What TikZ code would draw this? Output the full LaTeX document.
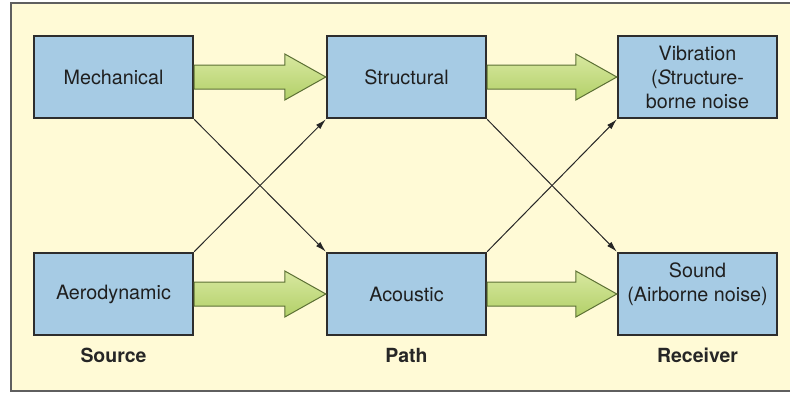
\documentclass[tikz,border=0pt]{standalone}
\usepackage{fontspec}
\setmainfont{TeX Gyre Heros}
\usetikzlibrary{arrows.meta,calc}

\definecolor{paper}{RGB}{255,250,214}
\definecolor{boxblue}{RGB}{166,203,228}
\definecolor{boxline}{RGB}{45,45,45}
\definecolor{frameline}{RGB}{95,95,95}
\definecolor{greenlight}{RGB}{216,232,160}
\definecolor{greendark}{RGB}{178,208,104}
\definecolor{greenline}{RGB}{92,112,52}

\tikzset{every picture/.style={line width=0.75pt}}
\tikzset{
  blockbox/.style={draw=boxline, line width=1.5pt, fill=boxblue, minimum width=119.5pt, minimum height=62pt,
    inner sep=0pt, align=center, font=\fontsize{14.8}{18}\selectfont, text=black!88},
  caption/.style={font=\fontsize{14.6}{18}\selectfont\bfseries, text=black!85},
  thinarrow/.style={draw=black!85, line width=0.75pt, -{Latex[length=8pt,width=4.5pt]}},
  fatarrow/.style={draw=greenline, line width=0.75pt, top color=greenlight, bottom color=greendark, line join=miter}
}
% broad green arrow from the east side of #1 to the west side of #2
\newcommand{\fatarrow}[2]{%
  \draw[fatarrow] ($(#1.east)+(0,-12)$) -- ($(#2.west)+(-41,-12)$) -- ($(#2.west)+(-41,-23)$) -- (#2.west)
    -- ($(#2.west)+(-41,23)$) -- ($(#2.west)+(-41,12)$) -- ($(#1.east)+(0,12)$) -- cycle ;}

\begin{document}
\begin{tikzpicture}[x=0.75pt,y=0.75pt,yscale=-1,xscale=1]
\useasboundingbox (0,0) rectangle (790,394);

%Shape: Frame (runs off the right edge)
\draw [draw=frameline, line width=1.5pt, fill=paper] (11,3) rectangle (800,391) ;

%Shape: Boxes
\node [blockbox] (mech) at (113.5,77) {Mechanical};
\node [blockbox] (struct) at (406.5,77) {Structural};
\node [blockbox] (vib) at (697.5,77) {Vibration\\(\textit{S}tructure-\\borne noise};
\node [blockbox] (aero) at (113.5,294) {Aerodynamic};
\node [blockbox] (acou) at (406.5,294) {Acoustic};
\node [blockbox] (sound) at (697.5,294) {Sound\\(Airborne noise)\\~};

%Shape: Broad arrows
\fatarrow{mech}{struct}
\fatarrow{struct}{vib}
\fatarrow{aero}{acou}
\fatarrow{acou}{sound}

%Straight Lines: crossing paths
\draw [thinarrow] (mech.south east) -- (acou.north west) ;
\draw [thinarrow] (aero.north east) -- (struct.south west) ;
\draw [thinarrow] (struct.south east) -- (sound.north west) ;
\draw [thinarrow] (acou.north east) -- (vib.south west) ;

% Text Node
\node [caption] (source) at (113.5,355) {Source};
% Text Node
\node [caption] (path) at (406.5,355) {Path};
% Text Node
\node [caption] (receiver) at (697.5,355) {Receiver};

\end{tikzpicture}
\end{document}
